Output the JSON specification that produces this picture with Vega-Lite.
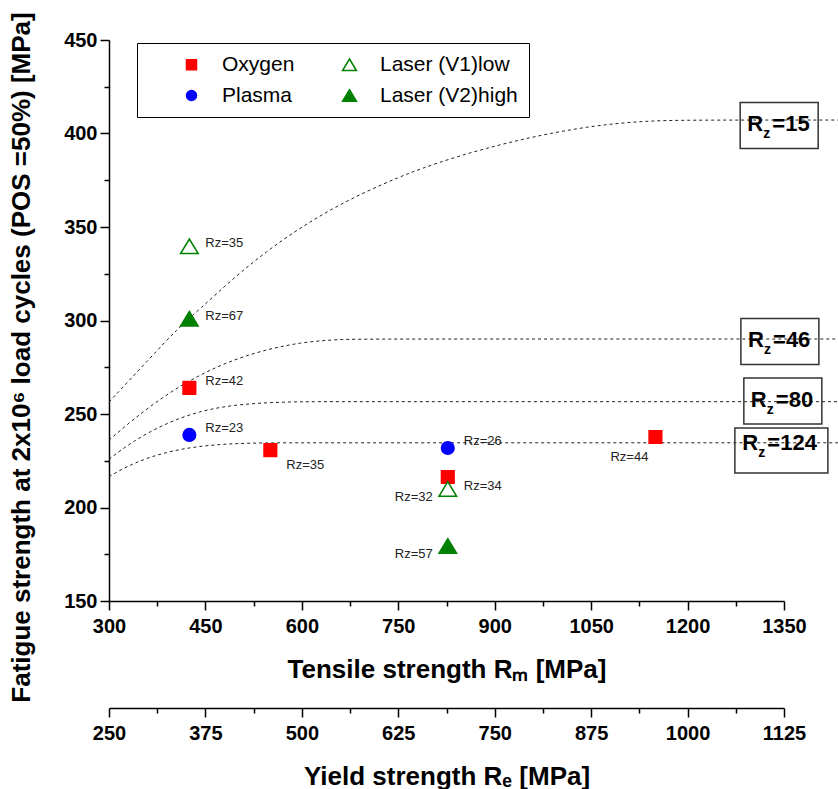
{
  "$schema": "https://vega.github.io/schema/vega-lite/v6.json",
  "width": 675,
  "height": 561,
  "autosize": {"type": "none"},
  "padding": {"left": 109, "top": 40, "right": 54, "bottom": 188},
  "background": "white",
  "config": {
    "view": {"stroke": null},
    "axis": {
      "grid": false,
      "domainColor": "black",
      "tickColor": "black",
      "labelColor": "black",
      "titleColor": "black",
      "labelFont": "Liberation Sans",
      "titleFont": "Liberation Sans",
      "labelFontWeight": "bold",
      "titleFontWeight": "bold",
      "labelFontSize": 20,
      "titleFontSize": 26,
      "domainWidth": 1.5,
      "tickWidth": 1.5,
      "labelFlush": false,
      "labelOverlap": false,
      "format": "d"
    },
    "text": {"font": "Liberation Sans"}
  },
  "datasets": {
    "curves": [
      {"curve": "15", "Rm": 300, "F": 256.4},
      {"curve": "15", "Rm": 363, "F": 279.6},
      {"curve": "15", "Rm": 407, "F": 295.8},
      {"curve": "15", "Rm": 441, "F": 306},
      {"curve": "15", "Rm": 493, "F": 322.5},
      {"curve": "15", "Rm": 545, "F": 337},
      {"curve": "15", "Rm": 597, "F": 349.5},
      {"curve": "15", "Rm": 648, "F": 360},
      {"curve": "15", "Rm": 700, "F": 369},
      {"curve": "15", "Rm": 752, "F": 376.8},
      {"curve": "15", "Rm": 784, "F": 381},
      {"curve": "15", "Rm": 835, "F": 387},
      {"curve": "15", "Rm": 887, "F": 392.1},
      {"curve": "15", "Rm": 939, "F": 396.6},
      {"curve": "15", "Rm": 990, "F": 400.3},
      {"curve": "15", "Rm": 1043, "F": 403.5},
      {"curve": "15", "Rm": 1095, "F": 405.6},
      {"curve": "15", "Rm": 1146, "F": 406.8},
      {"curve": "15", "Rm": 1198, "F": 407.2},
      {"curve": "15", "Rm": 1434, "F": 407.2},
      {"curve": "46", "Rm": 300, "F": 236},
      {"curve": "46", "Rm": 337, "F": 247},
      {"curve": "46", "Rm": 389, "F": 260.5},
      {"curve": "46", "Rm": 441, "F": 271},
      {"curve": "46", "Rm": 493, "F": 279},
      {"curve": "46", "Rm": 545, "F": 284.5},
      {"curve": "46", "Rm": 597, "F": 288.2},
      {"curve": "46", "Rm": 654, "F": 290},
      {"curve": "46", "Rm": 720, "F": 290.1},
      {"curve": "46", "Rm": 1434, "F": 290.1},
      {"curve": "80", "Rm": 300, "F": 225.8},
      {"curve": "80", "Rm": 337, "F": 235.5},
      {"curve": "80", "Rm": 389, "F": 245.2},
      {"curve": "80", "Rm": 441, "F": 251.6},
      {"curve": "80", "Rm": 493, "F": 254.8},
      {"curve": "80", "Rm": 545, "F": 256.1},
      {"curve": "80", "Rm": 597, "F": 256.6},
      {"curve": "80", "Rm": 650, "F": 256.6},
      {"curve": "80", "Rm": 1434, "F": 256.6},
      {"curve": "124", "Rm": 300, "F": 216.5},
      {"curve": "124", "Rm": 337, "F": 223.8},
      {"curve": "124", "Rm": 389, "F": 229.8},
      {"curve": "124", "Rm": 441, "F": 232.9},
      {"curve": "124", "Rm": 493, "F": 234.2},
      {"curve": "124", "Rm": 545, "F": 234.6},
      {"curve": "124", "Rm": 600, "F": 234.6},
      {"curve": "124", "Rm": 1434, "F": 234.6}
    ],
    "pts": [
      {"series": "Oxygen", "Rm": 425, "F": 264, "label": "Rz=42"},
      {"series": "Oxygen", "Rm": 551, "F": 230.7, "label": "Rz=35"},
      {"series": "Oxygen", "Rm": 827, "F": 216.3, "label": "Rz=34"},
      {"series": "Oxygen", "Rm": 1150, "F": 237.7, "label": "Rz=44"},
      {"series": "Plasma", "Rm": 425, "F": 238.8, "label": "Rz=23"},
      {"series": "Plasma", "Rm": 827, "F": 231.8, "label": "Rz=26"},
      {"series": "Laser (V1)low", "Rm": 425, "F": 339.7, "label": "Rz=35"},
      {"series": "Laser (V1)low", "Rm": 827, "F": 209.9, "label": "Rz=32"},
      {"series": "Laser (V2)high", "Rm": 425, "F": 301, "label": "Rz=67"},
      {"series": "Laser (V2)high", "Rm": 827, "F": 179.4, "label": "Rz=57"}
    ],
    "boxes": [
      {"Rz": "15", "Rm": 1342.5, "F": 404.3},
      {"Rz": "46", "Rm": 1343.6, "F": 288.8},
      {"Rz": "80", "Rm": 1348.2, "F": 256.95},
      {"Rz": "124", "Rm": 1334.7, "F": 233.7}
    ]
  },
  "resolve": {"scale": {"x": "independent"}, "axis": {"x": "independent", "y": "independent"}},
  "layer": [
    {
      "data": {"name": "curves"},
      "mark": {"type": "line", "interpolate": "basis", "strokeDash": [3, 3], "strokeWidth": 1, "color": "#222222"},
      "encoding": {
        "x": {"field": "Rm", "type": "quantitative", "scale": {"domain": [300, 1350], "nice": false, "zero": false},
          "axis": {"orient": "bottom", "values": [300, 450, 600, 750, 900, 1050, 1200, 1350], "tickSize": 9, "labelPadding": 6,
            "title": "Tensile strength Rₘ [MPa]", "titleY": 76, "titleBaseline": "alphabetic"}},
        "y": {"field": "F", "type": "quantitative", "scale": {"domain": [150, 450], "nice": false, "zero": false},
          "axis": {"orient": "left", "values": [150, 200, 250, 300, 350, 400, 450], "tickSize": 9, "labelPadding": 3,
            "title": "Fatigue strength at 2x10⁶ load cycles (POS =50%) [MPa]", "titleX": -88, "titleY": 317, "titleBaseline": "middle"}},
        "detail": {"field": "curve"}
      }
    },
    {
      "data": {"name": "pts"},
      "mark": {"type": "point", "filled": true, "strokeWidth": 1.5, "opacity": 1, "size": 160},
      "encoding": {
        "x": {"field": "Rm", "type": "quantitative", "scale": {"domain": [300, 1350], "nice": false, "zero": false},
          "axis": {"orient": "bottom", "values": [375, 525, 675, 825, 975, 1125, 1275], "tickSize": 5, "labels": false, "domain": false, "title": null}},
        "y": {"field": "F", "type": "quantitative", "scale": {"domain": [150, 450], "nice": false, "zero": false},
          "axis": {"orient": "left", "values": [175, 225, 275, 325, 375, 425], "tickSize": 5, "labels": false, "domain": false, "title": null}},
        "fill": {"field": "series", "type": "nominal",
          "scale": {"domain": ["Oxygen", "Plasma", "Laser (V1)low", "Laser (V2)high"], "range": ["#ff0000", "#0000ff", "#ffffff", "#008000"]},
          "legend": {"title": " ", "titleOrient": "left", "titlePadding": 33, "titleFontSize": 10, "orient": "none", "legendX": 28, "legendY": 3, "columns": 2, "columnPadding": 44, "rowPadding": 9, "labelOffset": 20, "labelFontSize": 21, "labelFont": "Liberation Sans", "labelColor": "black", "padding": 11, "strokeColor": "black", "fillColor": "white", "symbolStrokeWidth": 1.5, "symbolOpacity": 1, "labelLimit": 300}},
        "stroke": {"field": "series", "type": "nominal",
          "scale": {"domain": ["Oxygen", "Plasma", "Laser (V1)low", "Laser (V2)high"], "range": ["#ff0000", "#0000ff", "#008000", "#008000"]},
          "legend": {"title": " ", "titleOrient": "left", "titlePadding": 33, "titleFontSize": 10, "orient": "none", "legendX": 28, "legendY": 3, "columns": 2, "columnPadding": 44, "rowPadding": 9, "labelOffset": 20, "labelFontSize": 21, "labelFont": "Liberation Sans", "labelColor": "black", "padding": 11, "strokeColor": "black", "fillColor": "white", "symbolStrokeWidth": 1.5, "symbolOpacity": 1, "labelLimit": 300}},
        "shape": {"field": "series", "type": "nominal",
          "scale": {"domain": ["Oxygen", "Plasma", "Laser (V1)low", "Laser (V2)high"], "range": ["square", "circle", "M0,-1.15L1.39,1.15L-1.39,1.15Z", "M0,-1.15L1.39,1.15L-1.39,1.15Z"]},
          "legend": {"title": " ", "titleOrient": "left", "titlePadding": 33, "titleFontSize": 10, "orient": "none", "legendX": 28, "legendY": 3, "columns": 2, "columnPadding": 44, "rowPadding": 9, "labelOffset": 20, "labelFontSize": 21, "labelFont": "Liberation Sans", "labelColor": "black", "padding": 11, "strokeColor": "black", "fillColor": "white", "symbolStrokeWidth": 1.5, "symbolOpacity": 1, "labelLimit": 300}}
      }
    },
    {
      "data": {"name": "pts"},
      "transform": [{"filter": "datum.label == 'Rz=67' || (datum.label == 'Rz=35' && datum.series != 'Oxygen')"}],
      "mark": {"type": "text", "align": "left", "baseline": "middle", "dx": 16, "dy": -3, "fontSize": 13, "color": "#222222"},
      "encoding": {
        "x": {"field": "Rm", "type": "quantitative", "scale": {"domain": [300, 1350], "nice": false, "zero": false}, "axis": null},
        "y": {"field": "F", "type": "quantitative", "scale": {"domain": [150, 450], "nice": false, "zero": false}, "axis": null},
        "text": {"field": "label"}
      }
    },
    {
      "data": {"name": "pts"},
      "transform": [{"filter": "datum.label == 'Rz=42' || datum.label == 'Rz=23' || datum.label == 'Rz=26'"}],
      "mark": {"type": "text", "align": "left", "baseline": "middle", "dx": 16, "dy": -7, "fontSize": 13, "color": "#222222"},
      "encoding": {
        "x": {"field": "Rm", "type": "quantitative", "scale": {"domain": [300, 1350], "nice": false, "zero": false}, "axis": null},
        "y": {"field": "F", "type": "quantitative", "scale": {"domain": [150, 450], "nice": false, "zero": false}, "axis": null},
        "text": {"field": "label"}
      }
    },
    {
      "data": {"name": "pts"},
      "transform": [{"filter": "datum.label == 'Rz=34'"}],
      "mark": {"type": "text", "align": "left", "baseline": "middle", "dx": 16, "dy": 9, "fontSize": 13, "color": "#222222"},
      "encoding": {
        "x": {"field": "Rm", "type": "quantitative", "scale": {"domain": [300, 1350], "nice": false, "zero": false}, "axis": null},
        "y": {"field": "F", "type": "quantitative", "scale": {"domain": [150, 450], "nice": false, "zero": false}, "axis": null},
        "text": {"field": "label"}
      }
    },
    {
      "data": {"name": "pts"},
      "transform": [{"filter": "datum.label == 'Rz=35' && datum.series == 'Oxygen'"}],
      "mark": {"type": "text", "align": "left", "baseline": "middle", "dx": 16, "dy": 15, "fontSize": 13, "color": "#222222"},
      "encoding": {
        "x": {"field": "Rm", "type": "quantitative", "scale": {"domain": [300, 1350], "nice": false, "zero": false}, "axis": null},
        "y": {"field": "F", "type": "quantitative", "scale": {"domain": [150, 450], "nice": false, "zero": false}, "axis": null},
        "text": {"field": "label"}
      }
    },
    {
      "data": {"name": "pts"},
      "transform": [{"filter": "datum.label == 'Rz=32' || datum.label == 'Rz=57'"}],
      "mark": {"type": "text", "align": "right", "baseline": "middle", "dx": -15, "dy": 8, "fontSize": 13, "color": "#222222"},
      "encoding": {
        "x": {"field": "Rm", "type": "quantitative", "scale": {"domain": [300, 1350], "nice": false, "zero": false}, "axis": null},
        "y": {"field": "F", "type": "quantitative", "scale": {"domain": [150, 450], "nice": false, "zero": false}, "axis": null},
        "text": {"field": "label"}
      }
    },
    {
      "data": {"name": "pts"},
      "transform": [{"filter": "datum.label == 'Rz=44'"}],
      "mark": {"type": "text", "align": "right", "baseline": "middle", "dx": -7, "dy": 20, "fontSize": 13, "color": "#222222"},
      "encoding": {
        "x": {"field": "Rm", "type": "quantitative", "scale": {"domain": [300, 1350], "nice": false, "zero": false}, "axis": null},
        "y": {"field": "F", "type": "quantitative", "scale": {"domain": [150, 450], "nice": false, "zero": false}, "axis": null},
        "text": {"field": "label"}
      }
    },
    {
      "data": {"name": "boxes"},
      "transform": [{"filter": "datum.Rz != '124'"}],
      "mark": {"type": "point", "shape": "M-1,-0.59H1V0.59H-1Z", "size": 6084, "filled": false, "stroke": "#333333", "strokeWidth": 1.5, "opacity": 1},
      "encoding": {
        "x": {"field": "Rm", "type": "quantitative", "scale": {"domain": [300, 1350], "nice": false, "zero": false}, "axis": null},
        "y": {"field": "F", "type": "quantitative", "scale": {"domain": [150, 450], "nice": false, "zero": false}, "axis": null}
      }
    },
    {
      "data": {"name": "boxes"},
      "transform": [{"filter": "datum.Rz == '124'"}],
      "mark": {"type": "point", "shape": "M-0.845,-0.355H1.155V0.613H-0.845Z", "size": 8649, "filled": false, "stroke": "#333333", "strokeWidth": 1.5, "opacity": 1},
      "encoding": {
        "x": {"field": "Rm", "type": "quantitative", "scale": {"domain": [300, 1350], "nice": false, "zero": false}, "axis": null},
        "y": {"field": "F", "type": "quantitative", "scale": {"domain": [150, 450], "nice": false, "zero": false}, "axis": null}
      }
    },
    {
      "data": {"name": "boxes"},
      "mark": {"type": "text", "text": "R", "align": "left", "baseline": "alphabetic", "dx": -32, "dy": 6, "fontSize": 22, "fontWeight": "bold", "color": "black"},
      "encoding": {
        "x": {"field": "Rm", "type": "quantitative", "scale": {"domain": [300, 1350], "nice": false, "zero": false}, "axis": null},
        "y": {"field": "F", "type": "quantitative", "scale": {"domain": [150, 450], "nice": false, "zero": false}, "axis": null}
      }
    },
    {
      "data": {"name": "boxes"},
      "mark": {"type": "text", "text": "z", "align": "left", "baseline": "alphabetic", "dx": -16, "dy": 13, "fontSize": 14, "fontWeight": "bold", "color": "black"},
      "encoding": {
        "x": {"field": "Rm", "type": "quantitative", "scale": {"domain": [300, 1350], "nice": false, "zero": false}, "axis": null},
        "y": {"field": "F", "type": "quantitative", "scale": {"domain": [150, 450], "nice": false, "zero": false}, "axis": null}
      }
    },
    {
      "data": {"name": "boxes"},
      "mark": {"type": "text", "text": "=", "align": "left", "baseline": "alphabetic", "dx": -7, "dy": 6, "fontSize": 22, "fontWeight": "bold", "color": "black"},
      "encoding": {
        "x": {"field": "Rm", "type": "quantitative", "scale": {"domain": [300, 1350], "nice": false, "zero": false}, "axis": null},
        "y": {"field": "F", "type": "quantitative", "scale": {"domain": [150, 450], "nice": false, "zero": false}, "axis": null}
      }
    },
    {
      "data": {"name": "boxes"},
      "mark": {"type": "text", "align": "left", "baseline": "alphabetic", "dx": 6, "dy": 6, "fontSize": 22, "fontWeight": "bold", "color": "black"},
      "encoding": {
        "x": {"field": "Rm", "type": "quantitative", "scale": {"domain": [300, 1350], "nice": false, "zero": false}, "axis": null},
        "y": {"field": "F", "type": "quantitative", "scale": {"domain": [150, 450], "nice": false, "zero": false}, "axis": null},
        "text": {"field": "Rz"}
      }
    },
    {
      "data": {"name": "boxes"},
      "mark": {"type": "point", "opacity": 0},
      "encoding": {
        "x": {"datum": 250, "type": "quantitative", "scale": {"domain": [250, 1125], "nice": false, "zero": false},
          "axis": {"orient": "bottom", "offset": 107, "values": [250, 375, 500, 625, 750, 875, 1000, 1125], "tickSize": 9, "labelPadding": 6,
            "title": "Yield strength Rₑ [MPa]", "titleY": 76, "titleBaseline": "alphabetic"}}
      }
    },
    {
      "data": {"name": "boxes"},
      "mark": {"type": "point", "opacity": 0},
      "encoding": {
        "x": {"datum": 250, "type": "quantitative", "scale": {"domain": [250, 1125], "nice": false, "zero": false},
          "axis": {"orient": "bottom", "offset": 107, "values": [312.5, 437.5, 562.5, 687.5, 812.5, 937.5, 1062.5], "tickSize": 5, "labels": false, "domain": false, "title": null}}
      }
    }
  ]
}
